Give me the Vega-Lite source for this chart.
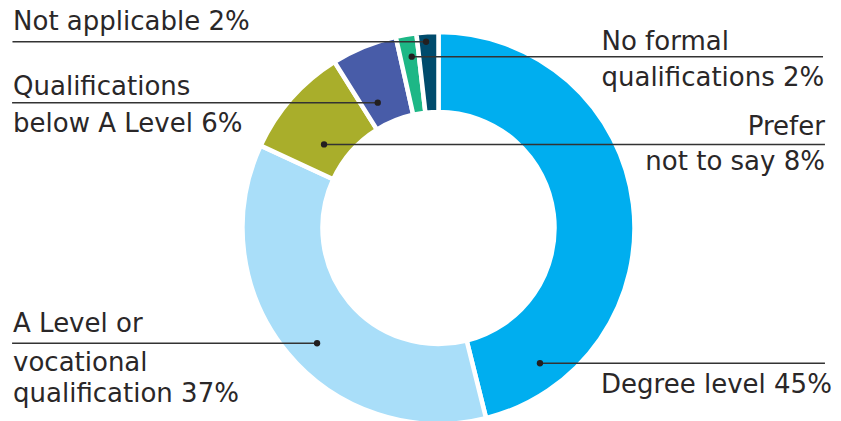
{
  "$schema": "https://vega.github.io/schema/vega-lite/v6.json",
  "width": 805,
  "height": 386,
  "autosize": {"type": "none"},
  "padding": {"left": 36, "top": 35, "right": 0, "bottom": 0},
  "background": "white",
  "config": {"view": {"stroke": null}},
  "datasets": {
    "slices": [
      {"rank": 1, "category": "Degree level", "share": 46.1},
      {"rank": 2, "category": "A Level or vocational qualification", "share": 35.8},
      {"rank": 3, "category": "Prefer not to say", "share": 9.2},
      {"rank": 4, "category": "Qualifications below A Level", "share": 5.4},
      {"rank": 5, "category": "No formal qualifications", "share": 1.7},
      {"rank": 6, "category": "Not applicable", "share": 1.8}
    ],
    "leaders": [
      {"category": "Not applicable", "x1": -219.6, "x2": -6.4, "y": 96.0},
      {"category": "No formal qualifications", "x1": -13.8, "x2": 198.2, "y": 88.3},
      {"category": "Qualifications below A Level", "x1": -219.8, "x2": -31.3, "y": 64.6},
      {"category": "Prefer not to say", "x1": -59.0, "x2": 199.2, "y": 43.1},
      {"category": "A Level or vocational qualification", "x1": -219.8, "x2": -62.6, "y": -59.4},
      {"category": "Degree level", "x1": 52.3, "x2": 199.2, "y": -69.7}
    ],
    "dots": [
      {"category": "Not applicable", "x": -6.4, "y": 96.0},
      {"category": "No formal qualifications", "x": -13.8, "y": 88.3},
      {"category": "Qualifications below A Level", "x": -31.3, "y": 64.6},
      {"category": "Prefer not to say", "x": -59.0, "y": 43.1},
      {"category": "A Level or vocational qualification", "x": -62.6, "y": -59.4},
      {"category": "Degree level", "x": 52.3, "y": -69.7}
    ],
    "labelsLeft": [
      {"text": "Not applicable 2%", "x": -219.3, "y": 101.8},
      {"text": "Qualifications", "x": -219.3, "y": 68.6},
      {"text": "below A Level 6%", "x": -219.3, "y": 49.7},
      {"text": "No formal", "x": 84.0, "y": 91.8},
      {"text": "qualifications 2%", "x": 84.0, "y": 73.2},
      {"text": "A Level or", "x": -219.3, "y": -53.5},
      {"text": "vocational", "x": -219.3, "y": -73.7},
      {"text": "qualification 37%", "x": -219.3, "y": -89.5},
      {"text": "Degree level 45%", "x": 83.8, "y": -85.2}
    ],
    "labelsRight": [
      {"text": "Prefer", "x": 199.2, "y": 47.9},
      {"text": "not to say 8%", "x": 199.2, "y": 29.9}
    ]
  },
  "layer": [
    {
      "data": {"name": "slices"},
      "mark": {"type": "arc", "innerRadius": 116, "outerRadius": 196, "stroke": "white", "strokeWidth": 4.5},
      "encoding": {
        "theta": {"field": "share", "type": "quantitative", "stack": true},
        "order": {"field": "rank", "type": "quantitative"},
        "color": {
          "field": "category",
          "type": "nominal",
          "scale": {
            "domain": ["Degree level", "A Level or vocational qualification", "Prefer not to say", "Qualifications below A Level", "No formal qualifications", "Not applicable"],
            "range": ["#00AEEF", "#A9DEF9", "#A9AE2B", "#485CA8", "#1DB786", "#004B6C"]
          },
          "legend": null
        }
      }
    },
    {
      "data": {"name": "leaders"},
      "mark": {"type": "rule", "color": "#333333", "strokeWidth": 1.5},
      "encoding": {
        "x": {"field": "x1", "type": "quantitative", "scale": {"domain": [-207.47, 207.47], "nice": false, "zero": false}, "axis": null},
        "x2": {"field": "x2"},
        "y": {"field": "y", "type": "quantitative", "scale": {"domain": [-99.48, 99.48], "nice": false, "zero": false}, "axis": null}
      }
    },
    {
      "data": {"name": "dots"},
      "mark": {"type": "point", "filled": true, "size": 40, "color": "#231F20", "opacity": 1},
      "encoding": {
        "x": {"field": "x", "type": "quantitative", "scale": {"domain": [-207.47, 207.47], "nice": false, "zero": false}, "axis": null},
        "y": {"field": "y", "type": "quantitative", "scale": {"domain": [-99.48, 99.48], "nice": false, "zero": false}, "axis": null}
      }
    },
    {
      "data": {"name": "labelsLeft"},
      "mark": {"type": "text", "font": "DejaVu Sans", "fontSize": 26, "align": "left", "baseline": "alphabetic", "color": "#2A2728"},
      "encoding": {
        "x": {"field": "x", "type": "quantitative", "scale": {"domain": [-207.47, 207.47], "nice": false, "zero": false}, "axis": null},
        "y": {"field": "y", "type": "quantitative", "scale": {"domain": [-99.48, 99.48], "nice": false, "zero": false}, "axis": null},
        "text": {"field": "text"}
      }
    },
    {
      "data": {"name": "labelsRight"},
      "mark": {"type": "text", "font": "DejaVu Sans", "fontSize": 26, "align": "right", "baseline": "alphabetic", "color": "#2A2728"},
      "encoding": {
        "x": {"field": "x", "type": "quantitative", "scale": {"domain": [-207.47, 207.47], "nice": false, "zero": false}, "axis": null},
        "y": {"field": "y", "type": "quantitative", "scale": {"domain": [-99.48, 99.48], "nice": false, "zero": false}, "axis": null},
        "text": {"field": "text"}
      }
    }
  ]
}
